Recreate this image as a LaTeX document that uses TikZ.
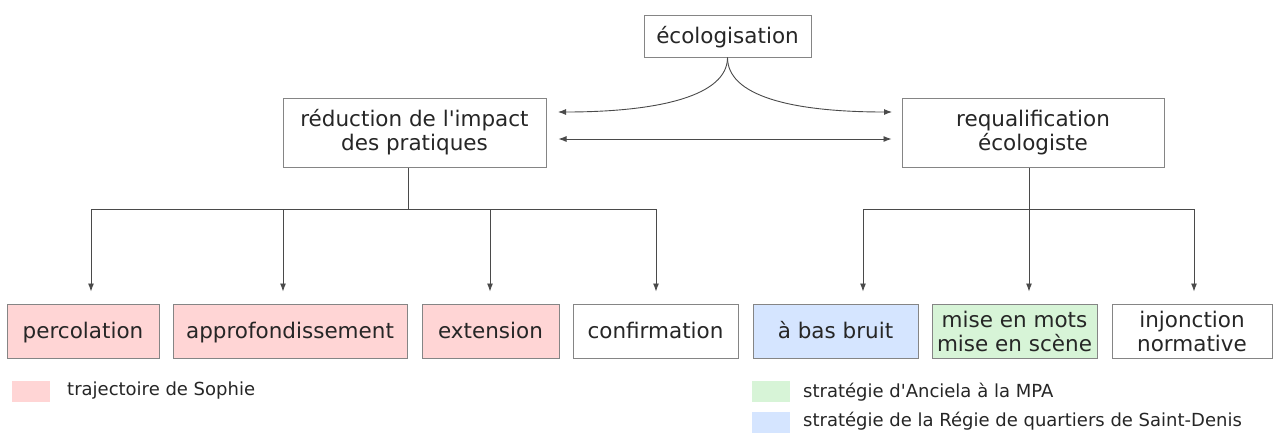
\documentclass[tikz,border=0pt]{standalone}
\usepackage{fontspec}
\setmainfont{DejaVu Sans}
\usetikzlibrary{arrows.meta,calc}
\definecolor{txt}{HTML}{262626}
\definecolor{bord}{HTML}{858585}
\definecolor{lin}{HTML}{4A4A4A}
\definecolor{pinkf}{HTML}{FFD5D5}
\definecolor{bluef}{HTML}{D5E5FF}
\definecolor{greenf}{HTML}{D7F4D7}
\begin{document}
\begin{tikzpicture}[x=1pt,y=-1pt,
  box/.style={draw=bord, line width=1pt, inner sep=0pt, align=center, text=txt,
    font=\fontsize{21.5}{24}\selectfont},
  oneline/.style={text height=17pt, text depth=3pt},
  tip/.tip={Latex[length=8pt,width=6pt]},
  arr/.style={draw=lin, line width=0.9pt, -tip},
  ln/.style={draw=lin, line width=0.9pt},
  leg/.style={anchor=west, inner sep=0pt, text=txt, font=\fontsize{18}{21}\selectfont},
  sw/.style={draw=none, inner sep=0pt, minimum width=38pt, minimum height=21pt}]

\useasboundingbox[fill=white] (0,0) rectangle (1274,432);

% top nodes
\node[box, oneline, minimum width=167pt, minimum height=42pt] (eco) at (727.5,36) {écologisation};
\node[box, minimum width=263pt, minimum height=69pt] (reduc) at (414.5,132.5) {réduction de l\textquotesingle impact\\des pratiques};
\node[box, minimum width=262pt, minimum height=69pt] (requal) at (1033,132.5) {requalification\\écologiste};

% bottom nodes
\node[box, oneline, fill=pinkf, minimum width=152pt, minimum height=54pt] (perc) at (83,331) {percolation};
\node[box, oneline, fill=pinkf, minimum width=234pt, minimum height=54pt] (appr) at (290,331) {approfondissement};
\node[box, oneline, fill=pinkf, minimum width=137pt, minimum height=54pt] (ext) at (490.5,331) {extension};
\node[box, oneline, minimum width=165pt, minimum height=54pt] (conf) at (655.5,331) {confirmation};
\node[box, oneline, fill=bluef, minimum width=165pt, minimum height=54pt] (bas) at (835.5,331) {à bas bruit};
\node[box, fill=greenf, minimum width=165pt, minimum height=54pt] (mise) at (1014.5,331) {mise en mots\\mise en scène};
\node[box, minimum width=160pt, minimum height=54pt] (inj) at (1192,331) {injonction\\normative};

% curved arrows from ecologisation
\coordinate (cL) at (558,112);
\coordinate (cR) at (892,112);
\draw[arr] (eco.south) .. controls +(0,38) and +(102,0) .. (cL);
\draw[arr] (eco.south) .. controls +(0,38) and +(-102,0) .. (cR);
\draw[ln, tip-tip] ($(reduc.east)+(12,6.5)$) -- ($(requal.west)+(-10,6.5)$);

% left tree
\coordinate (bl) at (408,209);
\coordinate (bl1) at (91,209);
\coordinate (bl2) at (283,209);
\coordinate (bl3) at (490,209);
\coordinate (bl4) at (656,209);
\draw[ln] (reduc.south -| bl) -- (bl);
\draw[ln] (bl1) -- (bl4);
\draw[arr, shorten >=12pt] (bl1) -- (perc.north -| bl1);
\draw[arr, shorten >=12pt] (bl2) -- (appr.north -| bl2);
\draw[arr, shorten >=12pt] (bl3) -- (ext.north -| bl3);
\draw[arr, shorten >=12pt] (bl4) -- (conf.north -| bl4);

% right tree
\coordinate (br1) at (863,209);
\coordinate (br2) at (1029,209);
\coordinate (br3) at (1194,209);
\draw[ln] (requal.south -| br2) -- (br2);
\draw[ln] (br1) -- (br3);
\draw[arr, shorten >=12pt] (br1) -- (bas.north -| br1);
\draw[arr, shorten >=12pt] (br2) -- (mise.north -| br2);
\draw[arr, shorten >=12pt] (br3) -- (inj.north -| br3);

% legend
\node[sw, fill=pinkf] (lp) at (30.5,391) {};
\node[leg] (lpt) at (67,391) {trajectoire de Sophie};
\node[sw, fill=greenf] (lg) at (771,391.5) {};
\node[leg] (lgt) at (803,392) {stratégie d\textquotesingle Anciela à la MPA};
\node[sw, fill=bluef] (lb) at (771,422) {};
\node[leg] (lbt) at (803,421) {stratégie de la Régie de quartiers de Saint-Denis};
\end{tikzpicture}
\end{document}
